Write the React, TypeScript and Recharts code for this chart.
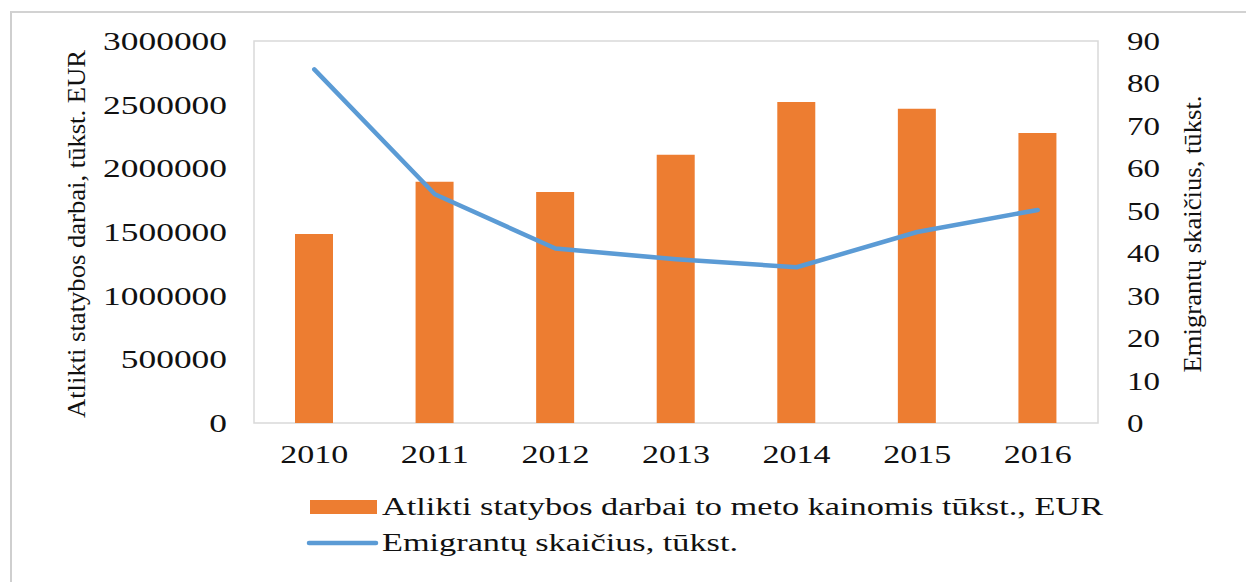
import { ComposedChart, Bar, Line, XAxis, YAxis, Legend, ReferenceArea } from 'recharts'

const years = ['2010', '2011', '2012', '2013', '2014', '2015', '2016']
const worksDone = [1484000, 1895000, 1814000, 2107000, 2521000, 2468000, 2277000]
const emigrants = [83.3, 53.9, 41.1, 38.6, 36.7, 45.0, 50.2]
const leftTicks = [0, 500000, 1000000, 1500000, 2000000, 2500000, 3000000]
const rightTicks = [0, 10, 20, 30, 40, 50, 60, 70, 80, 90]

const BAR_NAME = 'Atlikti statybos darbai to meto kainomis tūkst., EUR'
const LINE_NAME = 'Emigrantų skaičius, tūkst.'
const LEFT_TITLE = 'Atlikti statybos darbai, tūkst. EUR'
const RIGHT_TITLE = 'Emigrantų skaičius, tūkst.'

const ORANGE = '#ED7D31'
const BLUE = '#5B9BD5'
const FONT = 'Liberation Serif'

const data = years.map((year, i) => ({
  year,
  works: worksDone[i],
  emigrants: emigrants[i],
}))

const LeftTick = (props: any) => {
  const label = String(props.payload.value)
  return (
    <text x={props.x} y={props.y + 9} textAnchor="end" fontFamily={FONT} fontSize={26} fill="#111"
      textLength={label.length * 17.7} lengthAdjust="spacingAndGlyphs">
      {label}
    </text>
  )
}

const RightTick = (props: any) => {
  const label = String(props.payload.value)
  return (
    <text x={props.x} y={props.y + 9} textAnchor="start" fontFamily={FONT} fontSize={26} fill="#111"
      textLength={label.length * 16.5} lengthAdjust="spacingAndGlyphs">
      {label}
    </text>
  )
}

const YearTick = (props: any) => (
  <text x={props.x} y={props.y + 40} textAnchor="middle" fontFamily={FONT} fontSize={26} fill="#111"
    textLength={68} lengthAdjust="spacingAndGlyphs">
    {props.payload.value}
  </text>
)

const LeftTitle = ({ viewBox }: any) => {
  const cx = viewBox.x + 76
  const cy = viewBox.y + viewBox.height / 2 + 2
  return (
    <text x={cx} y={cy} transform={`rotate(-90 ${cx} ${cy})`} textAnchor="middle" dominantBaseline="central"
      fontFamily={FONT} fontSize={26} fill="#111" textLength={368} lengthAdjust="spacingAndGlyphs">
      {LEFT_TITLE}
    </text>
  )
}

const RightTitle = ({ viewBox }: any) => {
  const cx = viewBox.x + 94
  const cy = viewBox.y + viewBox.height / 2 + 2
  return (
    <text x={cx} y={cy} transform={`rotate(-90 ${cx} ${cy})`} textAnchor="middle" dominantBaseline="central"
      fontFamily={FONT} fontSize={26} fill="#111" textLength={277} lengthAdjust="spacingAndGlyphs">
      {RIGHT_TITLE}
    </text>
  )
}

const LegendContent = () => (
  <svg width={820} height={75} style={{ display: 'block' }}>
    <rect x={10} y={10} width={67} height={14} fill={ORANGE} />
    <text x={82} y={25} fontFamily={FONT} fontSize={26} fill="#111" textLength={721} lengthAdjust="spacingAndGlyphs">
      {BAR_NAME}
    </text>
    <line x1={9} y1={53} x2={76} y2={53} stroke={BLUE} strokeWidth={4.5} strokeLinecap="round" />
    <text x={82} y={61} fontFamily={FONT} fontSize={26} fill="#111" textLength={356} lengthAdjust="spacingAndGlyphs">
      {LINE_NAME}
    </text>
  </svg>
)

export default function App() {
  return (
    <div style={{ position: 'absolute', left: 0, top: 0, width: 1246, height: 582, background: '#fff', overflow: 'hidden' }}>
      <div style={{
        position: 'absolute', left: 10, top: 11, width: 1240, height: 580,
        borderLeft: '2px solid #cfcfcf', borderTop: '2px solid #d2d2d2',
      }} />
      <div style={{ position: 'absolute', left: 0, top: 0 }}>
        <ComposedChart width={1246} height={582} data={data} margin={{ top: 41, right: 0, bottom: 0, left: 0 }}>
          <XAxis dataKey="year" height={159} tickSize={0} tickMargin={0} axisLine={false} tickLine={false}
            tick={<YearTick />} interval={0} />
          <YAxis yAxisId="left" orientation="left" width={254} domain={[0, 3000000]} ticks={leftTicks}
            tickSize={0} tickMargin={27} axisLine={false} tickLine={false} tick={<LeftTick />}
            label={{ content: LeftTitle }} />
          <YAxis yAxisId="right" orientation="right" width={148} domain={[0, 90]} ticks={rightTicks}
            tickSize={0} tickMargin={29} axisLine={false} tickLine={false} tick={<RightTick />}
            label={{ content: RightTitle }} />
          <ReferenceArea yAxisId="left" y1={0} y2={3000000} fill="none" stroke="#d9d9d9" strokeWidth={1.5} />
          <Bar yAxisId="left" dataKey="works" name={BAR_NAME} fill={ORANGE} barSize={38} isAnimationActive={false} />
          <Line yAxisId="right" dataKey="emigrants" name={LINE_NAME} type="linear" stroke={BLUE} strokeWidth={4.5}
            strokeLinecap="round" strokeLinejoin="round" dot={false} activeDot={false} isAnimationActive={false} />
          <Legend layout="horizontal" verticalAlign="middle" align="center" content={<LegendContent />}
            wrapperStyle={{ top: 490, left: 300, width: 820, height: 75 }} />
        </ComposedChart>
      </div>
    </div>
  )
}
